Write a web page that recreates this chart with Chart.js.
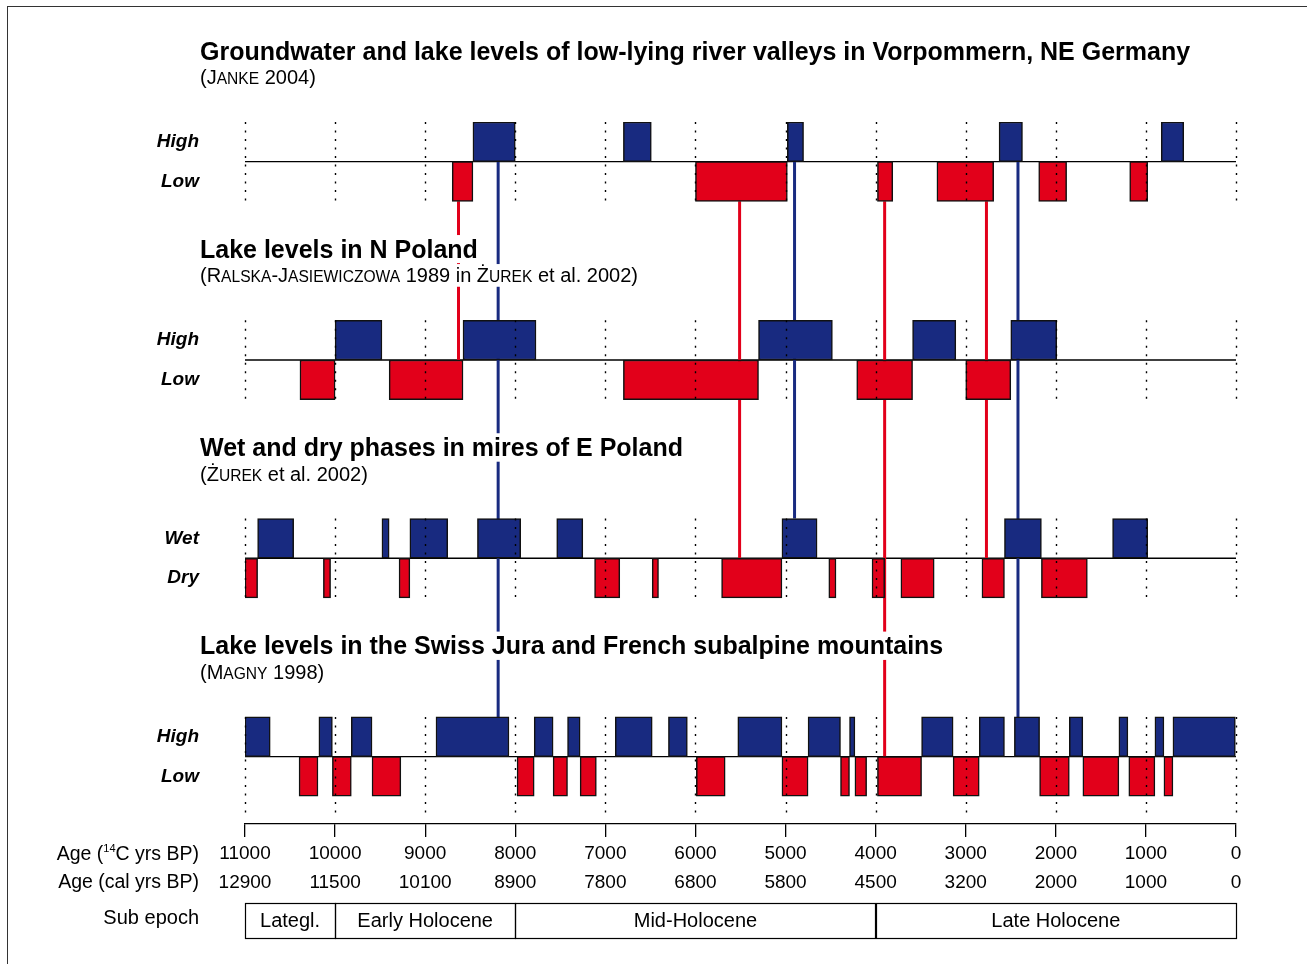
<!DOCTYPE html>
<html>
<head>
<meta charset="utf-8">
<title>Groundwater and lake levels</title>
<script src="https://cdn.jsdelivr.net/npm/chart.js@4.4.1/dist/chart.umd.min.js"></script>
<style>
    html, body { margin: 0; padding: 0; background: #fff; overflow: hidden; }
    #wrap { position: relative; width: 1307px; height: 964px; }
    #frame { position: absolute; left: 7px; top: 6px; width: 1320px; height: 980px;
             border-top: 1px solid #333; border-left: 1px solid #333; }
    #chart { position: absolute; left: 0; top: 0; }
</style>
</head>
<body>
<div id="wrap">
    <div id="frame"></div>
    <canvas id="chart" width="1307" height="964"></canvas>
</div>
<script>
// Phases in 14C years BP: [start, end]
const jankeHigh = [[8470, 8000], [6800, 6490], [4980, 4800], [2630, 2370], [830, 580]];
const jankeLow = [[8700, 8470], [6000, 4980], [3980, 3810], [3320, 2690], [2190, 1880], [1180, 980]];

const ralskaHigh = [[10000, 9480], [8580, 7770], [5300, 4480], [3590, 3110], [2500, 1990]];
const ralskaLow = [[10390, 10000], [9400, 8580], [6800, 5300], [4210, 3590], [3000, 2500]];

const zurekWet = [[10860, 10460], [9480, 9400], [9170, 8750], [8420, 7940], [7540, 7250],
                  [5040, 4650], [2570, 2160], [1370, 980]];
const zurekDry = [[11000, 10860], [10130, 10050], [9290, 9170], [7120, 6840], [6480, 6410],
                  [5710, 5040], [4520, 4440], [4040, 3900], [3720, 3350], [2820, 2570], [2160, 1650]];

const magnyHigh = [[11000, 10720], [10180, 10030], [9820, 9590], [8880, 8070], [7790, 7580],
                   [7420, 7280], [6890, 6480], [6300, 6090], [5530, 5040], [4750, 4390],
                   [4290, 4230], [3490, 3140], [2850, 2570], [2460, 2180], [1850, 1700],
                   [1300, 1200], [900, 800], [700, 0]];
const magnyLow = [[10400, 10190], [10030, 9820], [9590, 9270], [7980, 7790], [7580, 7420],
                  [7280, 7100], [5990, 5670], [5040, 4750], [4390, 4290], [4230, 4100],
                  [3980, 3490], [3140, 2850], [2180, 1850], [1700, 1300], [1190, 900], [800, 700]];

// Correlation lines: age, kind, first and last panel
const linkAges = [8630, 8190, 5510, 4900, 3900, 2770, 2420];
const linkKind = ['low', 'high', 'low', 'high', 'low', 'low', 'high'];
const linkFrom = [0, 0, 0, 0, 0, 0, 0];
const linkTo = [1, 3, 2, 2, 3, 2, 3];

const panelTitles = [
    'Groundwater and lake levels of low-lying river valleys in Vorpommern, NE Germany',
    'Lake levels in N Poland',
    'Wet and dry phases in mires of E Poland',
    'Lake levels in the Swiss Jura and French subalpine mountains'
];
// small capitals marked with {...}
const panelSources = [
    '(J{anke} 2004)',
    '(R{alska}-J{asiewiczowa} 1989 in Ż{urek} et al. 2002)',
    '(Ż{urek} et al. 2002)',
    '(M{agny} 1998)'
];
const rowLabels = ['High', 'Low', 'High', 'Low', 'Wet', 'Dry', 'High', 'Low'];

const c14Ticks = [11000, 10000, 9000, 8000, 7000, 6000, 5000, 4000, 3000, 2000, 1000, 0];
const calTicks = [12900, 11500, 10100, 8900, 7800, 6800, 5800, 4500, 3200, 2000, 1000, 0];

const subEpochNames = ['Lategl.', 'Early Holocene', 'Mid-Holocene', 'Late Holocene'];
const subEpochStart = [11000, 10000, 8000, 4000];
const subEpochEnd = [10000, 8000, 4000, 0];

const BLUE = '#182a80';
const RED = '#e2001a';
const FONT = '"Liberation Sans", Arial, sans-serif';

// each panel takes 5 row units: high row, low row and three rows of gap
const highSets = [jankeHigh, ralskaHigh, zurekWet, magnyHigh];
const lowSets = [jankeLow, ralskaLow, zurekDry, magnyLow];
const rowCentres = [];
panelTitles.forEach((t, p) => { rowCentres.push(5 * p + 0.5, 5 * p + 1.5); });

function toBars(sets, offset) {
    const out = [];
    sets.forEach((set, p) => {
        set.forEach(r => out.push({ x: [r[0], r[1]], y: 5 * p + offset }));
    });
    return out;
}

// split "(J{anke} 2004)" into runs of normal text and small capitals
function sourceRuns(src) {
    const runs = [];
    src.split(/(\{[^}]*\})/).forEach(part => {
        if (!part) return;
        if (part[0] === '{') runs.push({ text: part.slice(1, -1).toUpperCase(), small: true });
        else runs.push({ text: part, small: false });
    });
    return runs;
}

// title lines with their measured boxes
function titleLines(ctx, y) {
    const step = y.getPixelForValue(5) - y.getPixelForValue(0);
    const lines = [];
    panelTitles.forEach((t, p) => {
        lines.push({ runs: [{ text: t, small: false }], x: 200, base: 59.5 + step * p, size: 25, weight: 'bold' });
        lines.push({ runs: sourceRuns(panelSources[p]), x: 200, base: 84 + step * p, size: 20, weight: 'normal' });
    });
    lines.forEach(l => {
        l.w = 0;
        l.runs.forEach(r => {
            r.font = l.weight + ' ' + (r.small ? l.size * 0.78 : l.size) + 'px ' + FONT;
            ctx.font = r.font;
            r.w = ctx.measureText(r.text).width;
            l.w += r.w;
        });
        l.top = l.base - 0.905 * l.size;
        l.h = 1.117 * l.size;
    });
    return lines;
}

let titleBoxes = [];

const panelDecor = {
    id: 'panelDecor',
    beforeDatasetsDraw(chart) {
        const { ctx, chartArea: a, scales: { y } } = chart;
        titleBoxes = titleLines(ctx, y);
        ctx.save();
        ctx.strokeStyle = '#000';
        ctx.lineWidth = 1.4;
        panelTitles.forEach((t, p) => {
            const yy = y.getPixelForValue(5 * p + 1);
            ctx.beginPath();
            ctx.moveTo(a.left, yy);
            ctx.lineTo(a.right, yy);
            ctx.stroke();
        });
        ctx.restore();
    },
    // the correlation lines run behind the titles
    beforeDatasetDraw(chart, args) {
        if (args.meta.type !== 'line') return;
        const ctx = chart.ctx;
        ctx.save();
        ctx.beginPath();
        ctx.rect(0, 0, chart.width, chart.height);
        titleBoxes.forEach(l => ctx.rect(l.x - 1, l.top, l.w + 2, l.h));
        ctx.clip('evenodd');
    },
    afterDatasetDraw(chart, args) {
        if (args.meta.type !== 'line') return;
        chart.ctx.restore();
    },
    afterDatasetsDraw(chart) {
        const { ctx, scales: { x, y } } = chart;
        ctx.save();
        titleBoxes.forEach(l => {
            ctx.fillStyle = '#fff';
            ctx.fillRect(l.x - 1, l.top, l.w + 2, l.h);
            ctx.fillStyle = '#000';
            ctx.textAlign = 'left';
            ctx.textBaseline = 'alphabetic';
            let xx = l.x;
            l.runs.forEach(r => { ctx.font = r.font; ctx.fillText(r.text, xx, l.base); xx += r.w; });
        });
        // dotted age lines inside each panel
        ctx.strokeStyle = '#000';
        ctx.lineWidth = 1.4;
        ctx.setLineDash([2, 6.5]);
        panelTitles.forEach((t, p) => {
            const y0 = y.getPixelForValue(5 * p);
            const y1 = y.getPixelForValue(p === 3 ? 17.5 : 5 * p + 2);
            c14Ticks.forEach(v => {
                const xx = Math.round(x.getPixelForValue(v)) + 0.5;
                ctx.beginPath();
                ctx.moveTo(xx, y0);
                ctx.lineTo(xx, y1);
                ctx.stroke();
            });
        });
        ctx.restore();
    },
    afterDraw(chart) {
        const { ctx, chartArea: a, scales: { x } } = chart;
        const right = a.left - 46;
        ctx.save();
        ctx.fillStyle = '#000';
        ctx.textBaseline = 'middle';

        // axis names, with a superscript 14
        const y1 = a.bottom + 30.5, y2 = a.bottom + 58.7;
        const big = '19.5px ' + FONT, small = '11px ' + FONT;
        ctx.font = big;
        const p1 = 'Age (', p3 = 'C yrs BP)';
        const w1 = ctx.measureText(p1).width, w3 = ctx.measureText(p3).width;
        ctx.font = small;
        const w2 = ctx.measureText('14').width;
        const xs = right - w1 - w2 - w3;
        ctx.textAlign = 'left';
        ctx.font = big;
        ctx.fillText(p1, xs, y1);
        ctx.font = small;
        ctx.fillText('14', xs + w1, y1 - 6);
        ctx.font = big;
        ctx.fillText(p3, xs + w1 + w2, y1);
        ctx.textAlign = 'right';
        ctx.fillText('Age (cal yrs BP)', right, y2);

        // sub epochs
        const top = a.bottom + 79, h = 35;
        ctx.font = '20px ' + FONT;
        ctx.fillText('Sub epoch', right, top + h / 2 - 2);
        ctx.strokeStyle = '#000';
        ctx.lineWidth = 1.2;
        ctx.textAlign = 'center';
        subEpochNames.forEach((name, i) => {
            const xa = x.getPixelForValue(subEpochStart[i]);
            const xb = x.getPixelForValue(subEpochEnd[i]);
            ctx.strokeRect(Math.round(xa) + 0.5, Math.round(top) + 0.5, Math.round(xb - xa), h);
            ctx.fillText(name, (xa + xb) / 2, top + h / 2 + 1);
        });
        ctx.restore();
    }
};

const barStyle = {
    borderColor: '#111',
    borderWidth: 1.5,
    borderSkipped: false,
    grouped: false,
    barPercentage: 1,
    categoryPercentage: 1,
    order: 1
};

const linkSets = linkAges.map((age, i) => {
    const high = linkKind[i] === 'high';
    const y0 = 5 * linkFrom[i] + (high ? 1 : 2);
    const y1 = 5 * linkTo[i] + (high ? 0 : 1);
    return {
        type: 'line',
        indexAxis: 'y',
        data: [{ x: age, y: y0 }, { x: age, y: y1 }],
        borderColor: high ? BLUE : RED,
        borderWidth: 3,
        pointRadius: 0,
        fill: false,
        order: 2
    };
});

new Chart(document.getElementById('chart'), {
    type: 'bar',
    data: {
        datasets: [
            Object.assign({ label: 'High / wet', data: toBars(highSets, 0.5), backgroundColor: BLUE }, barStyle),
            Object.assign({ label: 'Low / dry', data: toBars(lowSets, 1.5), backgroundColor: RED }, barStyle)
        ].concat(linkSets)
    },
    options: {
        responsive: false,
        animation: false,
        indexAxis: 'y',
        layout: { padding: { top: 122, left: 0, right: 71, bottom: 70 } },
        plugins: { legend: { display: false }, tooltip: { enabled: false } },
        scales: {
            x: {
                type: 'linear',
                min: 0,
                max: 11000,
                reverse: true,
                afterFit: s => { s.height = 70; },
                afterBuildTicks: s => { s.ticks = c14Ticks.map(v => ({ value: v })); },
                ticks: {
                    autoSkip: false,
                    maxRotation: 0,
                    padding: 3,
                    color: '#000',
                    font: { family: FONT, size: 19, lineHeight: 1.484 },
                    callback: v => [String(v), String(calTicks[c14Ticks.indexOf(v)])]
                },
                grid: { drawOnChartArea: false, color: '#000', lineWidth: 1.3, tickLength: 13 },
                border: { color: '#000', width: 1.3 }
            },
            y: {
                type: 'linear',
                min: 0,
                max: 17.7,
                reverse: true,
                offset: false,
                afterFit: s => { s.width = 245; },
                afterBuildTicks: s => { s.ticks = rowCentres.map(v => ({ value: v })); },
                ticks: {
                    autoSkip: false,
                    padding: 46,
                    color: '#000',
                    font: { family: FONT, size: 19, style: 'italic', weight: 'bold' },
                    callback: v => rowLabels[rowCentres.indexOf(v)]
                },
                grid: { display: false, drawTicks: false },
                border: { display: false }
            }
        }
    },
    plugins: [panelDecor]
});
</script>
</body>
</html>
